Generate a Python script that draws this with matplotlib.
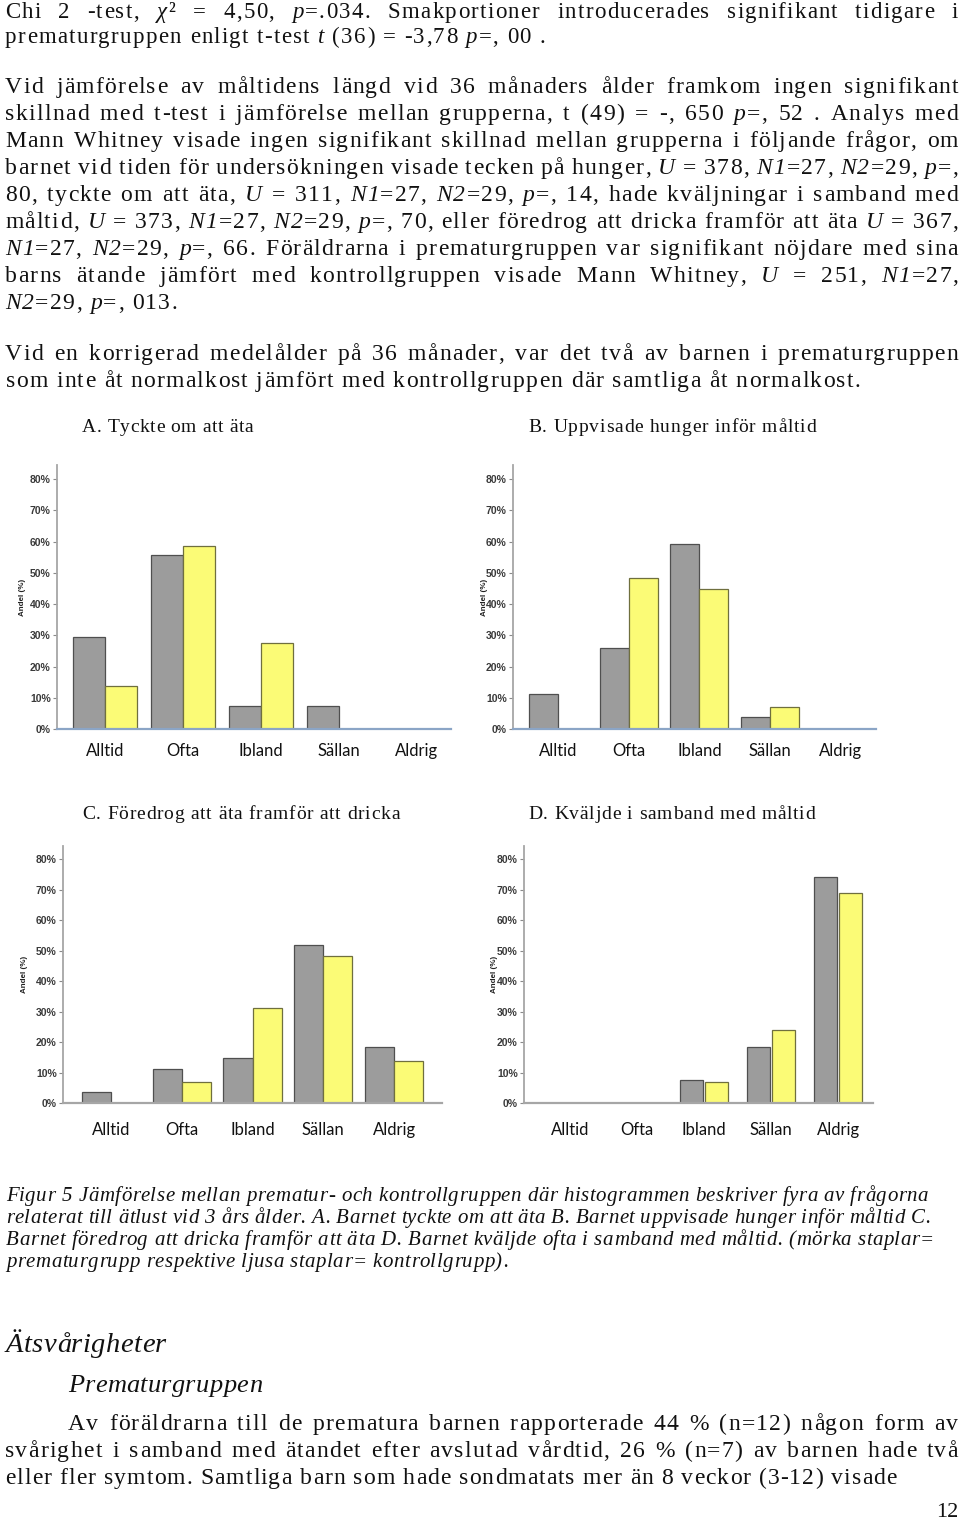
import matplotlib
matplotlib.use('Agg')
import matplotlib.pyplot as plt
from matplotlib.font_manager import FontProperties

# ---------------- data ----------------
categories = ['Alltid', 'Ofta', 'Ibland', 'Sällan', 'Aldrig']
a_prem = [29.6, 55.6, 7.4, 7.4, 0.0]
a_ctrl = [13.8, 58.6, 27.6, 0.0, 0.0]
b_prem = [11.1, 25.9, 59.3, 3.7, 0.0]
b_ctrl = [0.0, 48.3, 44.8, 6.9, 0.0]
c_prem = [3.7, 11.1, 14.8, 51.9, 18.5]
c_ctrl = [0.0, 6.9, 31.0, 48.3, 13.8]
d_prem = [0.0, 0.0, 7.4, 18.5, 74.1]
d_ctrl = [0.0, 0.0, 6.9, 24.1, 69.0]
y_ticks = [0, 10, 20, 30, 40, 50, 60, 70, 80]
y_tick_labels = ['0%', '10%', '20%', '30%', '40%', '50%', '60%', '70%', '80%']
y_label = 'Andel (%)'
chart_titles = ['A. Tyckte om att äta', 'B. Uppvisade hunger inför måltid',
                'C. Föredrog att äta framför att dricka', 'D. Kväljde i samband med måltid']

para1 = ["Chi 2 -test, *χ*² = 4,50, *p*=.034. Smakportioner introducerades signifikant tidigare i",
         "prematurgruppen enligt t-test *t* (36) = -3,78 *p*=, 00 ."]
para2 = ["Vid jämförelse av måltidens längd vid 36 månaders ålder framkom ingen signifikant",
         "skillnad med t-test i jämförelse mellan grupperna, t (49) = -, 650 *p*=, 52 . Analys med",
         "Mann Whitney visade ingen signifikant skillnad mellan grupperna i följande frågor, om",
         "barnet vid tiden för undersökningen visade tecken på hunger, *U* = 378, *N1*=27, *N2*=29, *p*=,",
         "80, tyckte om att äta, *U* = 311, *N1*=27, *N2*=29, *p*=, 14, hade kväljningar i samband med",
         "måltid, *U* = 373, *N1*=27, *N2*=29, *p*=, 70, eller föredrog att dricka framför att äta *U* = 367,",
         "*N1*=27, *N2*=29, *p*=, 66. Föräldrarna i prematurgruppen var signifikant nöjdare med sina",
         "barns ätande jämfört med kontrollgruppen visade Mann Whitney, *U* = 251, *N1*=27,",
         "*N2*=29, *p*=, 013."]
para3 = ["Vid en korrigerad medelålder på 36 månader, var det två av barnen i prematurgruppen",
         "som inte åt normalkost jämfört med kontrollgruppen där samtliga åt normalkost."]
caption = ["Figur 5 Jämförelse mellan prematur- och kontrollgruppen där histogrammen beskriver fyra av frågorna",
           "relaterat till ätlust vid 3 års ålder. A. Barnet tyckte om att äta B. Barnet uppvisade hunger inför måltid C.",
           "Barnet föredrog att dricka framför att äta D. Barnet kväljde ofta i samband med måltid. (mörka staplar=",
           "prematurgrupp respektive ljusa staplar= kontrollgrupp)."]
heading = "Ätsvårigheter"
subheading = "Prematurgruppen"
para4 = ["Av föräldrarna till de prematura barnen rapporterade 44 % (n=12) någon form av",
         "svårighet i samband med ätandet efter avslutad vårdtid, 26 % (n=7) av barnen hade två",
         "eller fler symtom. Samtliga barn som hade sondmatats mer än 8 veckor (3-12) visade"]
page_no = "12"

# ---------------- figure ----------------
W, H = 960, 1519
fig = plt.figure(figsize=(W / 100, H / 100), dpi=100)
ov = fig.add_axes([0, 0, 1, 1])
ov.set_xlim(0, W)
ov.set_ylim(H, 0)
ov.axis('off')
renderer = fig.canvas.get_renderer()

TXT = '#111111'
_cache = {}


def textw(s, fp):
    t = ov.text(0, 0, s, fontproperties=fp)
    w = t.get_window_extent(renderer).width
    t.remove()
    return w


def adv(ch, fp):
    k = (ch, hash(fp))
    if k not in _cache:
        _cache[k] = textw('I' + ch + 'I', fp) - textw('II', fp)
    return _cache[k]


def parse(s):
    out = []
    it = False
    for part in s.split('*'):
        for c in part:
            out.append((c, it))
        it = not it
    return out


def draw_line(s, x0, x1, y, fr, fi, mode='fit', track=0.0):
    chars = parse(s)
    fps = [fi if it else fr for c, it in chars]
    advs = [adv(c, fp) for (c, it), fp in zip(chars, fps)]
    n = len(chars)
    nat = sum(advs)
    nsp = sum(1 for c, it in chars if c == ' ')
    target = x1 - x0
    extra = 0.0
    if mode == 'fit':
        t = (target - nat) / max(n - 1, 1)
    elif mode == 'justify':
        t = track
        extra = (target - nat - t * (n - 1)) / max(nsp, 1)
    else:
        t = track
    x = x0
    for (c, it), fp, a in zip(chars, fps, advs):
        if c != ' ':
            ov.text(x, y, c, fontproperties=fp, ha='left', va='baseline', color=TXT)
        x += a + t + (extra if c == ' ' else 0)
    return t


serif = 'Liberation Serif'
body_r = FontProperties(family=serif, size=17)
body_i = FontProperties(family=serif, style='italic', size=17)
top_r = FontProperties(family=serif, size=16.5)
top_i = FontProperties(family=serif, style='italic', size=16.5)
cap_i = FontProperties(family=serif, style='italic', size=15)
head_i = FontProperties(family=serif, style='italic', size=20.5)
sub_i = FontProperties(family=serif, style='italic', size=19)
title_r = FontProperties(family=serif, size=14)
page_r = FontProperties(family=serif, size=16)

LEFT, RIGHT = 5, 958

# paragraph 1
t1 = draw_line(para1[1], LEFT, 545, 43, top_r, top_i, 'fit')
draw_line(para1[0], LEFT, RIGHT, 18, top_r, top_i, 'justify', t1)

# body tracking from last line of paragraph 3
tb = draw_line(para3[1], LEFT + 1, 860, 387, body_r, body_i, 'fit')
draw_line(para3[0], LEFT, RIGHT, 360, body_r, body_i, 'justify', tb)

y = 93
for i, line in enumerate(para2):
    if i == len(para2) - 1:
        draw_line(line, LEFT, 177, y, body_r, body_i, 'fit')
    else:
        draw_line(line, LEFT, RIGHT, y, body_r, body_i, 'justify', tb)
    y += 27

# chart titles
draw_line(chart_titles[0], 82, 253, 432, title_r, title_r, 'fit')
draw_line(chart_titles[1], 528, 816, 432, title_r, title_r, 'fit')
draw_line(chart_titles[2], 82, 400, 819, title_r, title_r, 'fit')
draw_line(chart_titles[3], 528, 815, 819, title_r, title_r, 'fit')

# caption
cap_ends = [928, 930, 934, 508]
cap_y = [1201, 1223, 1245, 1267]
for line, xe, yy in zip(caption, cap_ends, cap_y):
    draw_line(line, 6, xe, yy, cap_i, cap_i, 'fit')

# headings & last paragraph
draw_line(heading, 6, 166, 1352, head_i, head_i, 'fit')
draw_line(subheading, 68, 262, 1392, sub_i, sub_i, 'fit')
draw_line(para4[0], 68, RIGHT, 1430, body_r, body_i, 'justify', tb)
draw_line(para4[1], LEFT, RIGHT, 1457, body_r, body_i, 'justify', tb)
draw_line(para4[2], LEFT, 897, 1484, body_r, body_i, 'fit')
ov.text(958, 1517, page_no, fontproperties=page_r, ha='right', va='baseline', color=TXT)

# ---------------- charts ----------------
GRAY, GRAY_E = '#9c9c9c', '#4f4f4f'
YEL, YEL_E = '#fbfb76', '#6f6f3e'
tick_fp = FontProperties(family='Liberation Sans', weight='bold', size=7.5)


def chart(px, prem, ctrl, xlim, ytop, bar_w, gap, bottom_color, ylab_dx, lab_pad):
    x0, x1, yt, yb = px
    ax = fig.add_axes([x0 / W, 1 - yb / H, (x1 - x0) / W, (yb - yt) / H])
    ax.patch.set_alpha(0)
    xs = list(range(len(categories)))
    ax.bar([x - gap / 2 for x in xs], prem, width=-bar_w, align='edge',
           color=GRAY, edgecolor=GRAY_E, linewidth=0.9, zorder=2)
    ax.bar([x + gap / 2 for x in xs], ctrl, width=bar_w, align='edge',
           color=YEL, edgecolor=YEL_E, linewidth=0.9, zorder=2)
    ax.set_xlim(*xlim)
    ax.set_ylim(0, ytop)
    ax.set_yticks(y_ticks)
    ax.set_yticklabels(y_tick_labels, fontproperties=tick_fp, color='#3a3a3a')
    ax.tick_params(axis='y', length=3, width=0.8, color='#8a8a8a', pad=1.5)
    ax.set_xticks(xs)
    ax.set_xticklabels(categories, fontfamily='Lato', fontsize=12, color=TXT)
    ax.tick_params(axis='x', length=0, pad=lab_pad)
    for s in ('top', 'right'):
        ax.spines[s].set_visible(False)
    ax.spines['left'].set_color('#a6a6a6')
    ax.spines['left'].set_linewidth(1.3)
    ax.spines['bottom'].set_color(bottom_color)
    ax.spines['bottom'].set_linewidth(1.6)
    ax.spines['bottom'].set_zorder(3)
    ax.text(-ylab_dx / (x1 - x0), 0.5, y_label, transform=ax.transAxes, rotation=90,
            ha='center', va='center', fontsize=5.8, fontweight='bold',
            family='Liberation Sans', color='#222222')
    return ax


BLUE = '#8ba5c6'
GREY_AX = '#a6a6a6'
chart((57, 451, 465, 729), a_prem, a_ctrl, (-0.615, 4.436), 84.5, 0.41, 0.0, BLUE, 34, 10)
chart((513, 876, 465, 729), b_prem, b_ctrl, (-0.636, 4.495), 84.5, 0.41, 0.0, BLUE, 28, 10)
chart((63, 442, 846, 1103), c_prem, c_ctrl, (-0.678, 4.678), 84.3, 0.41, 0.0, GREY_AX, 38, 14)
chart((524, 873, 846, 1103), d_prem, d_ctrl, (-0.687, 4.52), 84.3, 0.34, 0.03, GREY_AX, 29, 14)

fig.savefig('out.png', dpi=100)
